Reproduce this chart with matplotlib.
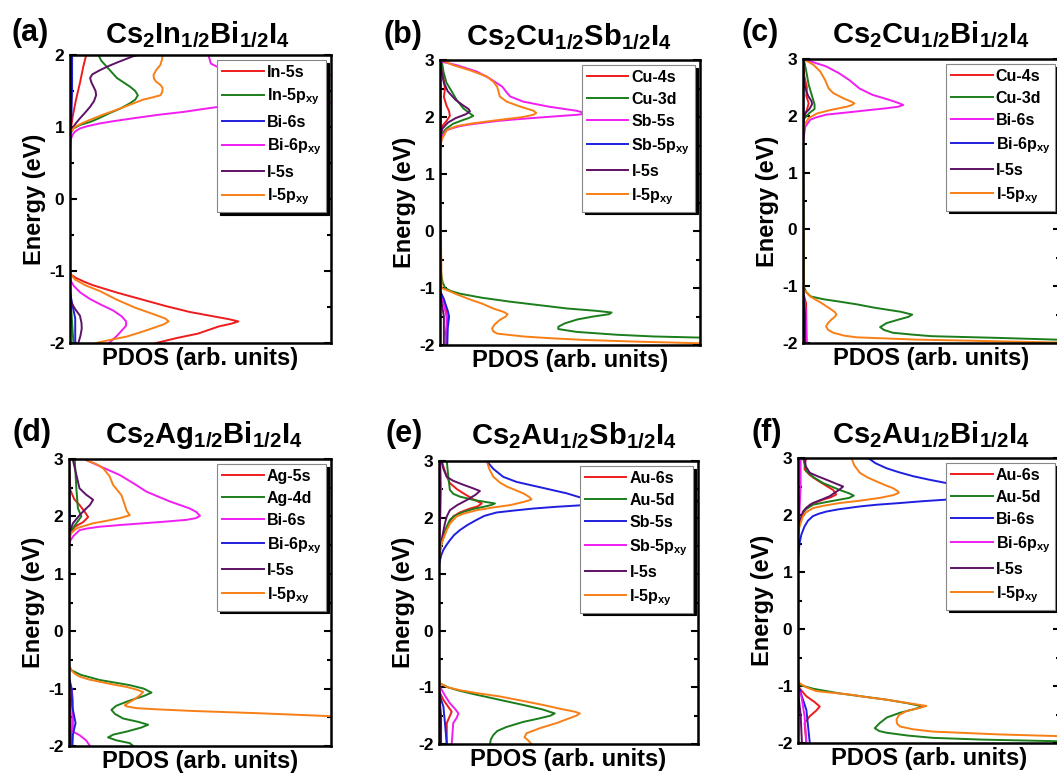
import matplotlib
matplotlib.use('Agg')
import matplotlib.pyplot as plt
from matplotlib.ticker import MultipleLocator

plt.rcParams['font.family'] = ['Liberation Sans', 'DejaVu Sans']
plt.rcParams['font.weight'] = 'bold'
plt.rcParams['mathtext.fontset'] = 'custom'
plt.rcParams['mathtext.bf'] = 'Liberation Sans:bold'
plt.rcParams['mathtext.rm'] = 'Liberation Sans:bold'
plt.rcParams['mathtext.it'] = 'Liberation Sans:bold'
plt.rcParams['mathtext.default'] = 'bf'
plt.rcParams['axes.unicode_minus'] = False

RED = '#ee1c1c'
GREEN = '#1b7d1b'
BLUE = '#1f1fe0'
MAGENTA = '#f21df2'
PURPLE = '#5e1166'
ORANGE = '#f77f15'

# ---- data: (energy eV, PDOS in % of axis width) ----
# (a) Cs2In1/2Bi1/2I4
a_in5s = [(2.0, 6.2), (1.84, 5.1), (1.61, 3.8), (1.38, 2.3), (1.14, 1.0), (0.96, 0.3), (0.9, 0),
          (-1.0, 0), (-1.05, 0.3), (-1.1, 2.5), (-1.15, 5.5), (-1.2, 9), (-1.25, 13.5),
          (-1.3, 18), (-1.39, 27), (-1.49, 37), (-1.57, 46), (-1.63, 55), (-1.67, 61),
          (-1.70, 64.5), (-1.73, 62), (-1.77, 57), (-1.82, 53), (-1.87, 49), (-1.93, 41),
          (-2.0, 33)]
a_in5p = [(2.0, 10.9), (1.92, 12), (1.84, 14), (1.76, 16), (1.68, 18), (1.56, 23), (1.5, 25),
          (1.44, 26), (1.38, 25), (1.33, 23), (1.26, 19.5), (1.19, 15), (1.12, 11), (1.07, 7.7),
          (1.03, 4), (0.98, 1.3), (0.9, 0), (-1.2, 0), (-1.6, 0.6), (-2.0, 1.3)]
a_bi6s = [(2.0, 0.8), (1.5, 0.8), (1.1, 0.5), (0.9, 0), (-1.3, 0), (-1.48, 1), (-1.66, 2),
          (-1.94, 2), (-2.0, 2)]
a_bi6p = [(2.0, 53), (1.88, 54), (1.79, 59), (1.7, 110), (1.5, 160), (1.35, 110), (1.29, 59),
          (1.25, 51), (1.21, 43.6), (1.17, 34), (1.12, 24), (1.08, 16.5), (1.05, 11.5),
          (1.01, 6.5), (0.98, 3.8), (0.94, 2), (0.91, 1.3), (0.86, 0.6), (0.8, 0.2), (0.7, 0),
          (-1.1, 0), (-1.15, 0.5), (-1.21, 1.5), (-1.3, 4), (-1.39, 7.7), (-1.47, 12),
          (-1.55, 16.6), (-1.63, 19.8), (-1.7, 21.5), (-1.76, 21.5), (-1.82, 20), (-1.9, 18),
          (-2.0, 15)]
a_i5s = [(2.0, 26), (1.98, 24), (1.91, 19), (1.85, 15), (1.79, 11.5), (1.73, 8.5), (1.68, 7.7),
         (1.62, 8.2), (1.56, 9), (1.5, 9.8), (1.44, 10), (1.36, 9.2), (1.28, 7.7), (1.2, 5.8),
         (1.12, 3.8), (1.05, 2.2), (1.0, 1.3), (0.92, 0), (-1.3, 0), (-1.44, 0.5), (-1.53, 2),
         (-1.62, 3.8), (-1.72, 4.4), (-1.8, 4.5), (-1.9, 4), (-2.0, 3.2)]
a_i5p = [(2.0, 35.5), (1.93, 35.2), (1.86, 34.6), (1.79, 33), (1.72, 32), (1.67, 32.2),
         (1.63, 33), (1.58, 34.8), (1.54, 35.5), (1.48, 35.3), (1.44, 34.6), (1.41, 31.5),
         (1.38, 28), (1.31, 23), (1.24, 18), (1.17, 12.5), (1.1, 7.7), (1.05, 4.5), (1.0, 1.9),
         (0.92, 0), (-1.0, 0), (-1.06, 0.5), (-1.12, 2), (-1.2, 6), (-1.28, 11.5), (-1.4, 18),
         (-1.51, 25), (-1.6, 32), (-1.66, 36.5), (-1.7, 37.8), (-1.74, 36), (-1.79, 32),
         (-1.84, 28), (-1.91, 21.8), (-1.96, 15), (-2.0, 10)]

# (b) Cs2Cu1/2Sb1/2I4
b_cu4s = [(3.0, 0.6), (2.7, 1.3), (2.5, 1.9), (2.35, 1.5), (2.2, 2.5), (2.1, 3.5), (2.02, 3.8),
          (1.93, 2.5), (1.85, 1), (1.75, 0.3), (1.5, 0), (-1.05, 0), (-1.2, 1.5), (-1.4, 2.5),
          (-1.6, 2.8), (-1.8, 2.2), (-2.0, 2.5)]
b_cu3d = [(3.0, 0.6), (2.8, 1.3), (2.6, 2.5), (2.45, 4.5), (2.3, 6.4), (2.15, 9), (2.08, 11),
          (2.02, 12.8), (1.98, 11), (1.95, 9), (1.88, 5), (1.8, 2.5), (1.7, 0.6), (1.5, 0),
          (-0.5, 0), (-0.7, 0.3), (-0.9, 1), (-1.0, 2), (-1.05, 4), (-1.1, 7.7), (-1.17, 16),
          (-1.24, 27), (-1.3, 38), (-1.36, 49), (-1.4, 60), (-1.43, 66), (-1.46, 65),
          (-1.5, 59), (-1.55, 53), (-1.62, 48), (-1.68, 45.5), (-1.72, 45.5), (-1.77, 52.5),
          (-1.82, 68), (-1.85, 82), (-1.87, 100), (-1.95, 130), (-2.0, 140)]
b_sb5s = [(3.0, 0), (2.97, 0.6), (2.91, 6.4), (2.8, 14), (2.68, 19), (2.53, 24), (2.44, 25.5),
          (2.36, 27), (2.27, 32), (2.18, 42), (2.11, 52.5), (2.08, 55), (2.06, 56), (2.04, 53),
          (2.02, 47), (1.99, 38), (1.96, 29.5), (1.93, 22), (1.9, 16.7), (1.87, 11.5),
          (1.84, 7.7), (1.8, 4.5), (1.77, 2.6), (1.68, 1), (1.54, 0.3), (1.4, 0), (-1.1, 0),
          (-1.3, 1.5), (-1.5, 2.5), (-1.8, 2.5), (-2.0, 2)]
b_sb5p = [(3.0, 0), (2.0, 0.3), (1.6, 0), (-1.05, 0), (-1.2, 1.5), (-1.4, 3), (-1.5, 3.5),
          (-1.7, 3), (-2.0, 2.8)]
b_i5s = [(3.0, 0), (2.8, 0.6), (2.6, 1.5), (2.45, 3), (2.3, 6), (2.2, 9), (2.14, 11),
         (2.1, 11.5), (2.05, 10), (1.98, 6), (1.9, 3), (1.8, 1), (1.7, 0.3), (1.5, 0),
         (-1.1, 0), (-1.5, 1.5), (-2.0, 1.5)]
b_i5p = [(3.0, 0.6), (2.91, 5), (2.82, 11.5), (2.71, 18), (2.62, 20.5), (2.53, 22), (2.36, 23),
         (2.27, 25.6), (2.18, 31), (2.11, 36), (2.07, 37), (2.04, 36), (2.0, 32), (1.95, 23),
         (1.89, 12.8), (1.84, 6.4), (1.77, 2.6), (1.6, 0.6), (1.4, 0), (-1.0, 0.6),
         (-1.06, 3.8), (-1.13, 7.5), (-1.2, 11.5), (-1.28, 16.5), (-1.36, 20.5), (-1.42, 24.5),
         (-1.46, 26), (-1.5, 25.3), (-1.56, 23), (-1.64, 21), (-1.71, 20), (-1.76, 20.5),
         (-1.8, 22), (-1.85, 32), (-1.88, 42), (-1.91, 55), (-1.94, 75), (-1.97, 100),
         (-2.0, 130)]

# (c) Cs2Cu1/2Bi1/2I4
c_cu4s = [(3.0, 0), (2.7, 0.5), (2.5, 1.5), (2.35, 1.3), (2.22, 2.2), (2.1, 1.5), (2.0, 0.5),
          (1.9, 0.2), (1.7, 0), (-1.1, 0), (-1.3, 1.2), (-1.6, 1.3), (-2.0, 1.3)]
c_cu3d = [(3.0, 0.3), (2.8, 1.2), (2.55, 2.2), (2.35, 3.5), (2.2, 4.5), (2.12, 4.5), (2.05, 2.5),
          (1.95, 0.5), (1.85, 0), (-1.0, 0.3), (-1.1, 1.2), (-1.18, 3), (-1.23, 8),
          (-1.27, 14), (-1.32, 21), (-1.38, 28), (-1.45, 38), (-1.5, 42.5), (-1.54, 41),
          (-1.59, 37), (-1.65, 32.5), (-1.72, 30), (-1.77, 31.5), (-1.82, 35), (-1.85, 42),
          (-1.88, 50), (-1.91, 76), (-1.94, 98), (-2.0, 140)]
c_bi6s = [(3.0, 1.2), (2.98, 1.5), (2.87, 9), (2.75, 14), (2.63, 18), (2.48, 22), (2.37, 27),
          (2.28, 33.6), (2.22, 37.5), (2.19, 39), (2.16, 37), (2.13, 32), (2.1, 25.5),
          (2.07, 19.5), (2.02, 9), (1.97, 5), (1.93, 2.8), (1.81, 0.9), (1.63, 0.3), (1.5, 0),
          (-1.1, 0), (-1.4, 1), (-1.8, 1.3), (-2.0, 1.5)]
c_bi6p = [(3.0, 0), (2.0, 0.2), (1.6, 0), (-1.1, 0), (-1.5, 0.8), (-2.0, 0.8)]
c_i5s = [(3.0, 0), (2.7, 0), (2.5, 0.8), (2.35, 2), (2.25, 3.4), (2.2, 3.5), (2.12, 2.5),
         (2.05, 1), (1.95, 0.3), (1.8, 0), (-1.1, 0), (-2.0, 0.5)]
c_i5p = [(3.0, 0.6), (2.98, 0.9), (2.9, 4), (2.78, 6.7), (2.63, 8.6), (2.48, 10), (2.4, 11.8),
         (2.31, 15.6), (2.25, 18.8), (2.22, 20), (2.19, 19), (2.16, 17), (2.1, 10.5),
         (2.04, 5.4), (1.96, 2.2), (1.84, 0.5), (1.7, 0), (-1.06, 0.3), (-1.18, 2.8),
         (-1.3, 7.3), (-1.41, 11), (-1.46, 12.5), (-1.5, 13), (-1.54, 12.3), (-1.59, 11),
         (-1.65, 9.7), (-1.71, 9), (-1.77, 9.8), (-1.82, 11.8), (-1.87, 16), (-1.9, 20.8),
         (-1.94, 44), (-1.97, 76), (-1.99, 98), (-2.0, 110)]

# (d) Cs2Ag1/2Bi1/2I4
d_ag5s = [(3.0, 0), (2.46, 0.5), (2.3, 2), (2.2, 4), (2.08, 6), (1.99, 7.3), (1.9, 5.4),
          (1.82, 2.2), (1.7, 0.5), (1.6, 0), (-1.0, 0), (-1.3, 0.6), (-2.0, 0.8)]
d_ag4d = [(3.0, 2.2), (2.98, 2.2), (2.49, 2.8), (2.14, 3.4), (2.0, 4.7), (1.88, 2.8),
          (1.76, 0.9), (1.65, 0), (-0.6, 0), (-0.68, 0.9), (-0.76, 4.5), (-0.85, 11.7),
          (-0.94, 23.2), (-1.0, 28.5), (-1.07, 31.5), (-1.13, 28.5), (-1.18, 25), (-1.23, 21.9),
          (-1.3, 18), (-1.37, 16.2), (-1.44, 17.5), (-1.52, 20.6), (-1.58, 26.5), (-1.63, 30.2),
          (-1.68, 27.5), (-1.75, 21.9), (-1.8, 17), (-1.85, 14.9), (-1.9, 18), (-1.95, 23.2),
          (-2.0, 24.5)]
d_bi6s = [(3.0, 6), (2.98, 6.6), (2.85, 13), (2.72, 19.4), (2.58, 24.5), (2.43, 29.6),
          (2.26, 38.5), (2.14, 46), (2.08, 48.5), (2.01, 50), (1.97, 48.5), (1.94, 44.8),
          (1.91, 37), (1.88, 28.3), (1.85, 19.5), (1.82, 11.7), (1.79, 7), (1.76, 4),
          (1.65, 1.5), (1.56, 0.3), (1.45, 0), (-0.9, 0), (-1.0, 1), (-1.2, 1.5), (-1.5, 1.5),
          (-1.75, 1.5), (-1.81, 4), (-1.9, 6.5), (-2.0, 8)]
d_bi6p = [(3.0, 0), (2.0, 0.3), (1.6, 0), (-0.8, 0), (-1.0, 1), (-1.3, 1.2), (-1.6, 2.5),
          (-1.8, 1.5), (-2.0, 1.3)]
d_i5s = [(3.0, 1.5), (2.98, 1.5), (2.49, 4), (2.38, 6.5), (2.29, 9.2), (2.2, 8), (2.14, 6.6),
         (2.02, 4), (1.88, 1.5), (1.76, 0.5), (1.65, 0), (-1.0, 0), (-2.0, 0.5)]
d_i5p = [(3.0, 6), (2.98, 6.6), (2.91, 10.5), (2.84, 13), (2.7, 15.5), (2.55, 16.8),
         (2.37, 20), (2.2, 21.3), (2.1, 22), (2.02, 23.2), (1.97, 19.4), (1.92, 14),
         (1.88, 9.2), (1.83, 5.5), (1.79, 2.8), (1.71, 0.9), (1.6, 0), (-0.6, 0), (-0.68, 0.9),
         (-0.74, 2.2), (-0.79, 4), (-0.84, 7.5), (-0.88, 11.7), (-0.93, 17), (-0.97, 21.9),
         (-1.02, 26), (-1.06, 28.3), (-1.12, 27), (-1.2, 24.5), (-1.25, 22.5), (-1.29, 21.3),
         (-1.31, 22), (-1.34, 25.7), (-1.36, 33), (-1.39, 47.4), (-1.43, 72.9), (-1.48, 99.6),
         (-1.55, 130), (-2.0, 160)]

# (e) Cs2Au1/2Sb1/2I4
e_au6s = [(3.0, 1), (2.9, 1.7), (2.75, 2.8), (2.61, 4.2), (2.5, 7), (2.43, 9.4), (2.33, 13),
          (2.25, 16.5), (2.2, 15), (2.16, 12), (2.09, 8), (2.02, 5.5), (1.88, 3.5),
          (1.72, 2.3), (1.49, 0.4), (1.4, 0), (-1.05, 0), (-1.1, 0.4), (-1.22, 1.7),
          (-1.43, 4.9), (-1.63, 3), (-2.0, 3)]
e_au5d = [(3.0, 3), (2.72, 3.6), (2.49, 4.2), (2.42, 5.5), (2.37, 8.1), (2.31, 13.5),
          (2.25, 21.6), (2.22, 20), (2.19, 17.1), (2.15, 13), (2.1, 9.4), (2.03, 6),
          (1.96, 4.2), (1.8, 2.6), (1.66, 1.7), (1.43, 0.4), (1.35, 0), (-0.85, 0),
          (-0.93, 0.4), (-1.0, 3.5), (-1.06, 8), (-1.13, 14.5), (-1.22, 23.5), (-1.31, 32.5),
          (-1.39, 40), (-1.46, 44.7), (-1.5, 43), (-1.55, 38.5), (-1.61, 32.5), (-1.7, 26),
          (-1.77, 22.5), (-1.84, 21), (-1.92, 20), (-2.0, 19.7)]
e_sb5s = [(3.0, 18.4), (2.86, 21), (2.72, 24.8), (2.63, 30), (2.55, 37.7), (2.43, 49.2),
          (2.34, 55.7), (2.29, 110), (2.22, 55.7), (2.19, 45), (2.16, 36.4), (2.12, 28),
          (2.09, 22.2), (2.03, 17.5), (1.96, 14.5), (1.87, 11), (1.78, 8.1), (1.69, 5.8),
          (1.6, 4.2), (1.51, 2.8), (1.43, 1.7), (1.34, 0.9), (1.25, 0.4), (1.15, 0),
          (-1.05, 0), (-1.16, 0.4), (-1.34, 1.7), (-1.63, 2.3), (-2.0, 3)]
e_sb5p = [(3.0, 0.5), (2.5, 0.8), (2.0, 0.5), (1.5, 0), (-0.95, 0), (-1.04, 1), (-1.16, 2.5),
          (-1.28, 4.2), (-1.38, 6.2), (-1.46, 7.5), (-1.54, 6.8), (-1.63, 5.5), (-2.0, 4.9)]
e_i5s = [(3.0, 1), (2.99, 1), (2.85, 1.8), (2.72, 3), (2.65, 5.5), (2.58, 9.4), (2.52, 13),
         (2.47, 15.8), (2.4, 14), (2.31, 10.7), (2.22, 7), (2.13, 4.2), (2.02, 3),
         (1.9, 2.3), (1.6, 1), (1.43, 0.4), (1.35, 0), (-1.1, 0), (-1.5, 0.8), (-2.0, 0.8)]
e_i5p = [(3.0, 18.4), (2.85, 19.5), (2.72, 21), (2.62, 23.5), (2.55, 26.1), (2.43, 32.5),
         (2.36, 35), (2.32, 35.7), (2.28, 33), (2.22, 27.4), (2.18, 21), (2.13, 14.5),
         (2.07, 9.5), (2.02, 6.8), (1.9, 4.3), (1.78, 3), (1.55, 1), (1.37, 0.4), (1.3, 0),
         (-0.85, 0), (-0.93, 0.4), (-1.0, 3.5), (-1.05, 8.1), (-1.1, 14.5), (-1.16, 23.5),
         (-1.24, 32.5), (-1.31, 40.2), (-1.38, 47), (-1.43, 52.5), (-1.46, 54.4), (-1.5, 53),
         (-1.56, 49.5), (-1.63, 45.4), (-1.72, 39), (-1.81, 33.8), (-1.88, 33), (-1.94, 34.5),
         (-2.0, 35.7)]

# (f) Cs2Au1/2Bi1/2I4
f_au6s = [(3.0, 3.2), (2.9, 2.6), (2.8, 2.5), (2.7, 4.5), (2.62, 7), (2.52, 10.5),
          (2.44, 13.4), (2.36, 14.6), (2.31, 12.5), (2.27, 9.6), (2.18, 4.5), (2.04, 1.9),
          (1.86, 0.6), (1.7, 0), (-0.95, 0), (-1.04, 0.6), (-1.18, 3.2), (-1.28, 6.3),
          (-1.36, 8.3), (-1.43, 7), (-1.53, 4.5), (-1.65, 2.5), (-2.0, 3.2)]
f_au5d = [(3.0, 1.9), (2.77, 3.2), (2.66, 6), (2.56, 9.6), (2.44, 15.9), (2.38, 19.5),
          (2.34, 21.3), (2.3, 19.5), (2.27, 15.9), (2.22, 10), (2.18, 5.7), (2.1, 3),
          (2.04, 1.9), (1.86, 0.6), (1.7, 0), (-0.9, 0), (-0.98, 0.6), (-1.05, 6),
          (-1.13, 15.9), (-1.18, 24), (-1.24, 33.8), (-1.3, 41.5), (-1.36, 47.8), (-1.41, 44),
          (-1.47, 38.9), (-1.55, 34), (-1.65, 31.2), (-1.74, 29.3), (-1.79, 31), (-1.82, 33.8),
          (-1.87, 42), (-1.91, 51.6), (-1.94, 70), (-1.97, 100), (-2.0, 120)]
f_bi6s = [(3.0, 26.8), (2.91, 29.5), (2.82, 33.8), (2.75, 38.5), (2.68, 44), (2.62, 50),
          (2.56, 56.7), (2.4, 120), (2.27, 56.7), (2.24, 47), (2.21, 38.9), (2.18, 30),
          (2.15, 23.6), (2.1, 15.5), (2.06, 10.8), (2.02, 7.8), (1.98, 5.7), (1.9, 3.8),
          (1.8, 2.5), (1.66, 1.3), (1.51, 0.6), (1.27, 0.1), (1.15, 0), (-1.0, 0), (-1.06, 0.6),
          (-1.42, 3.2), (-2.0, 4.5)]
f_bi6p = [(3.0, 1), (2.5, 1), (2.0, 0.5), (1.8, 0), (-1.05, 0), (-1.18, 1.3), (-1.53, 2.5),
          (-2.0, 3.2)]
f_i5s = [(3.0, 2.5), (2.85, 3), (2.74, 4.5), (2.68, 7.5), (2.62, 10.8), (2.55, 14.5),
         (2.5, 17.2), (2.45, 16), (2.39, 14), (2.33, 12.1), (2.27, 9), (2.21, 5.7), (2.13, 3.2),
         (2.06, 1.9), (1.86, 0.6), (1.7, 0), (-1.1, 0), (-1.5, 1), (-2.0, 1.5)]
f_i5p = [(3.0, 20.4), (2.87, 21.5), (2.74, 23.6), (2.66, 26.5), (2.59, 29.9), (2.52, 33.5),
         (2.47, 36.3), (2.42, 38), (2.39, 38.5), (2.35, 36.5), (2.3, 31.2), (2.25, 23.5),
         (2.21, 15.9), (2.16, 9.5), (2.12, 5.7), (2.05, 3.2), (1.98, 1.9), (1.8, 0.6),
         (1.65, 0), (-0.88, 0), (-0.95, 0.6), (-1.02, 3), (-1.09, 7), (-1.15, 19.7),
         (-1.2, 27), (-1.24, 33.8), (-1.3, 42), (-1.35, 49), (-1.39, 46), (-1.44, 41.4),
         (-1.51, 38.5), (-1.59, 37.6), (-1.66, 37.8), (-1.71, 38.9), (-1.76, 44),
         (-1.8, 51.6), (-1.85, 77), (-1.88, 100), (-2.0, 140)]

XY = r'$_{\mathbf{xy}}$'

panels = [
    ('(a)', r'Cs$_2$In$_{1/2}$Bi$_{1/2}$I$_4$', (-2, 2),
     [('In-5s', RED, a_in5s), ('In-5p' + XY, GREEN, a_in5p), ('Bi-6s', BLUE, a_bi6s),
      ('Bi-6p' + XY, MAGENTA, a_bi6p), ('I-5s', PURPLE, a_i5s), ('I-5p' + XY, ORANGE, a_i5p)]),
    ('(b)', r'Cs$_2$Cu$_{1/2}$Sb$_{1/2}$I$_4$', (-2, 3),
     [('Cu-4s', RED, b_cu4s), ('Cu-3d', GREEN, b_cu3d), ('Sb-5s', MAGENTA, b_sb5s),
      ('Sb-5p' + XY, BLUE, b_sb5p), ('I-5s', PURPLE, b_i5s), ('I-5p' + XY, ORANGE, b_i5p)]),
    ('(c)', r'Cs$_2$Cu$_{1/2}$Bi$_{1/2}$I$_4$', (-2, 3),
     [('Cu-4s', RED, c_cu4s), ('Cu-3d', GREEN, c_cu3d), ('Bi-6s', MAGENTA, c_bi6s),
      ('Bi-6p' + XY, BLUE, c_bi6p), ('I-5s', PURPLE, c_i5s), ('I-5p' + XY, ORANGE, c_i5p)]),
    ('(d)', r'Cs$_2$Ag$_{1/2}$Bi$_{1/2}$I$_4$', (-2, 3),
     [('Ag-5s', RED, d_ag5s), ('Ag-4d', GREEN, d_ag4d), ('Bi-6s', MAGENTA, d_bi6s),
      ('Bi-6p' + XY, BLUE, d_bi6p), ('I-5s', PURPLE, d_i5s), ('I-5p' + XY, ORANGE, d_i5p)]),
    ('(e)', r'Cs$_2$Au$_{1/2}$Sb$_{1/2}$I$_4$', (-2, 3),
     [('Au-6s', RED, e_au6s), ('Au-5d', GREEN, e_au5d), ('Sb-5s', BLUE, e_sb5s),
      ('Sb-5p' + XY, MAGENTA, e_sb5p), ('I-5s', PURPLE, e_i5s), ('I-5p' + XY, ORANGE, e_i5p)]),
    ('(f)', r'Cs$_2$Au$_{1/2}$Bi$_{1/2}$I$_4$', (-2, 3),
     [('Au-6s', RED, f_au6s), ('Au-5d', GREEN, f_au5d), ('Bi-6s', BLUE, f_bi6s),
      ('Bi-6p' + XY, MAGENTA, f_bi6p), ('I-5s', PURPLE, f_i5s), ('I-5p' + XY, ORANGE, f_i5p)]),
]

# layout in pixels: axes (left, top, right, bottom), tag centre, formula centre
W, H = 1057, 774
layout = [
    ((70, 55, 331, 343), (30, 33), (197, 35)),
    ((440, 60, 700, 345), (403, 35), (569, 37)),
    ((803, 59, 1060, 343), (760, 33), (931, 35)),
    ((69, 459, 331, 746), (32, 433), (204, 435)),
    ((439, 461, 698, 744), (404, 434), (574, 436)),
    ((798, 458, 1060, 743), (767, 433), (931, 435)),
]

fig = plt.figure(figsize=(W / 100, H / 100), dpi=100)

for (tag, formula, ylim, curves), (box, tagpos, formpos) in zip(panels, layout):
    l, t, r, b = box
    ax = fig.add_axes([l / W, 1 - b / H, (r - l) / W, (b - t) / H])
    for label, color, pts in curves:
        ax.plot([p[1] for p in pts], [p[0] for p in pts], color=color, lw=1.4, label=label,
                solid_joinstyle='round')
    ax.set_xlim(0, 100)
    ax.set_ylim(*ylim)
    ax.set_xticks([])
    ax.yaxis.set_major_locator(MultipleLocator(1))
    ax.yaxis.set_minor_locator(MultipleLocator(0.5))
    ax.tick_params(axis='y', which='both', direction='in', left=True, right=True,
                   labelsize=12.5, width=1.5, pad=4)
    ax.tick_params(axis='y', which='major', length=5)
    ax.tick_params(axis='y', which='minor', length=3)
    for lab in ax.get_yticklabels():
        lab.set_fontweight('bold')
    for sp in ax.spines.values():
        sp.set_linewidth(1.8)
    ax.set_ylabel('Energy (eV)', fontsize=17, fontweight='bold', labelpad=2)
    ax.set_xlabel('PDOS (arb. units)', fontsize=17, fontweight='bold', labelpad=3)
    leg = ax.legend(loc='upper right', fontsize=11.5, handlelength=2.6, handletextpad=0.2,
                    labelspacing=0.45, borderaxespad=0.3, borderpad=0.3, fancybox=False,
                    edgecolor='#888888', framealpha=1,
                    shadow={'color': 'black', 'alpha': 1.0})
    leg.get_frame().set_linewidth(0.8)
    for txt in leg.get_texts():
        txt.set_fontweight('bold')
    fig.text(tagpos[0] / W, 1 - tagpos[1] / H, tag, fontsize=22, fontweight='bold',
             ha='center', va='center')
    fig.text(formpos[0] / W, 1 - formpos[1] / H, formula, fontsize=21, fontweight='bold',
             ha='center', va='center')

fig.savefig('out.png', dpi=100)
